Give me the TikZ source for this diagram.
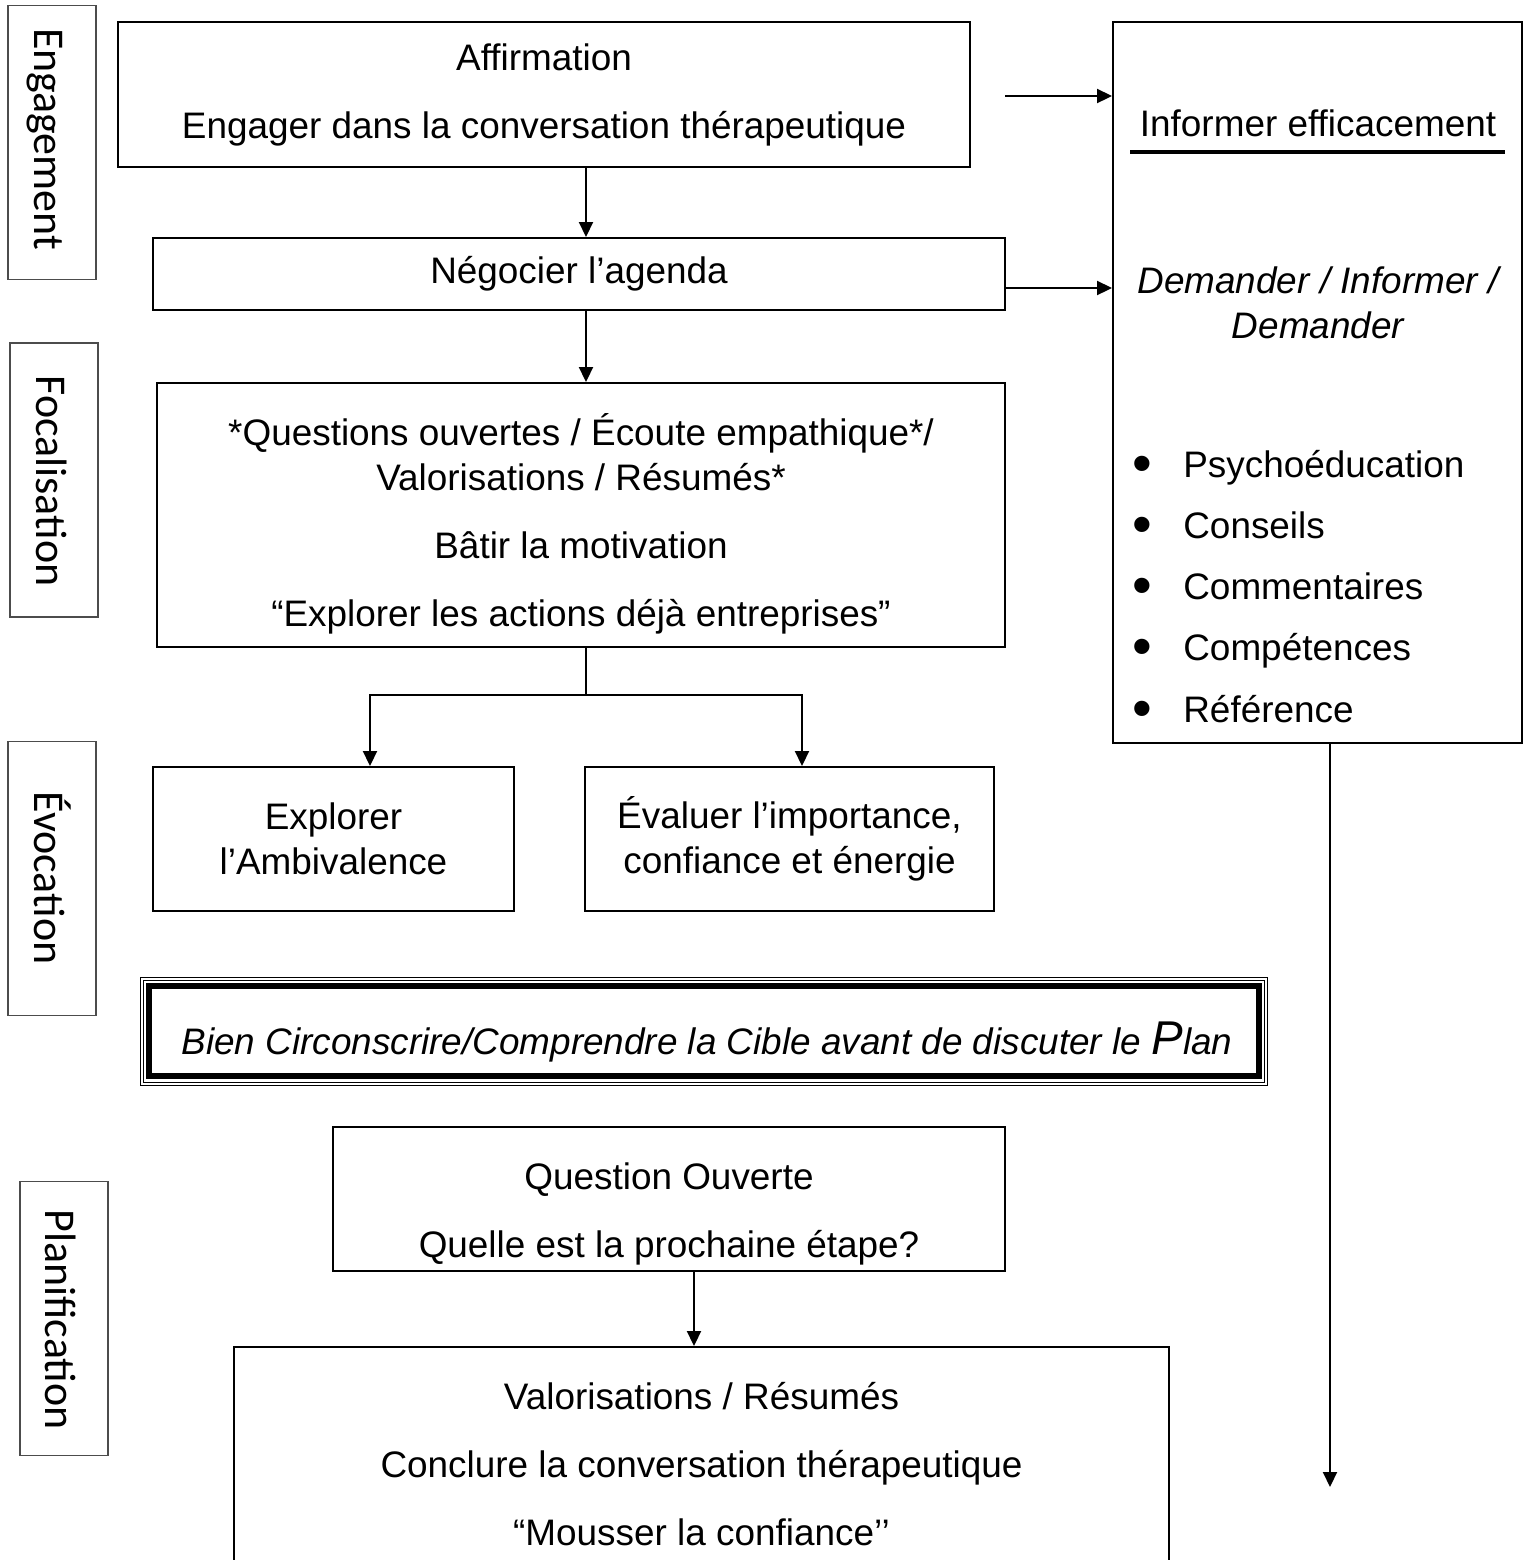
\documentclass[tikz,border=0pt]{standalone}
\usepackage{fontspec}
\setmainfont{Liberation Sans}
\newfontfamily\sidefont{Carlito}
\usetikzlibrary{arrows.meta}
\begin{document}
\begin{tikzpicture}[x=0.02cm, y=-0.02cm,
    box/.style={draw, line width=0.04cm, align=center, inner sep=0pt,
        font=\fontsize{21pt}{25.6pt}\selectfont},
    sidebox/.style={draw=black!70, line width=0.03cm, inner sep=0pt,
        minimum width=1.76cm, minimum height=5.48cm},
    sidelabel/.style={rotate=-90, anchor=base, inner sep=0pt,
        font=\sidefont\fontsize{25pt}{28pt}\selectfont},
    txt/.style={inner sep=0pt, align=center, font=\fontsize{21pt}{25.6pt}\selectfont},
    arr/.style={-{Triangle[length=0.3cm, width=0.28cm]}, line width=0.04cm}]
    \useasboundingbox (0,0) rectangle (1528,1560);
    \clip (0,0) rectangle (1528,1560);
    % side labels
    \node[sidebox] (engag) at (52,142.5) {};
    \node[sidelabel] (engagtxt) at (34,139) {Engagement};
    \node[sidebox] (focal) at (54,480) {};
    \node[sidelabel] (focaltxt) at (36,481) {Focalisation};
    \node[sidebox] (evoc) at (52,878.5) {};
    \node[sidelabel] (evoctxt) at (34,878) {Évocation};
    \node[sidebox] (planif) at (64,1318.5) {};
    \node[sidelabel] (planiftxt) at (46,1319.5) {Planification};
    % main boxes
    \node[box, minimum width=17.04cm, minimum height=2.9cm] (affirm) at (544,94.5)
        {Affirmation\\[0.46cm]Engager dans la conversation thérapeutique};
    \node[box, minimum width=17.04cm, minimum height=1.44cm] (negoc) at (579,274) {Négocier l’agenda};
    \node[box, minimum width=16.96cm, minimum height=5.28cm] (quest) at (581,515) {};
    \node[txt] (questtxt) at (581,524)
        {*Questions ouvertes / Écoute empathique*/\\Valorisations / Résumés*\\[0.46cm]Bâtir la motivation\\[0.46cm]“Explorer les actions déjà entreprises”};
    \node[box, minimum width=7.22cm, minimum height=2.88cm] (expl) at (333.5,839) {Explorer\\l’Ambivalence};
    \node[box, minimum width=8.18cm, minimum height=2.88cm] (evalu) at (789.5,839) {Évaluer l’importance,\\confiance et énergie};
    % target box
    \node[draw, line width=0.12cm, outer sep=0pt, minimum width=22.2cm, minimum height=1.8cm] (bien) at (704,1031) {};
    \draw[line width=0.02cm] ([shift={(-9,-9)}]bien.north west) rectangle ([shift={(9,9)}]bien.south east);
    \draw[line width=0.02cm] ([shift={(-6,-6)}]bien.north west) rectangle ([shift={(6,6)}]bien.south east);
    \node[txt, font=\fontsize{21pt}{25.6pt}\selectfont\itshape] (bientxt) at (707,1042)
        {Bien Circonscrire/Comprendre la Cible avant de discuter le {\fontsize{27pt}{30pt}\selectfont P}lan};
    \node[box, minimum width=13.44cm, minimum height=2.88cm] (qouv) at (669,1199) {};
    \node[txt] (qouvtxt) at (669,1214)
        {Question Ouverte\\[0.46cm]Quelle est la prochaine étape?};
    \node[box, minimum width=18.7cm, minimum height=4.68cm] (valor) at (701.5,1464)
        {Valorisations / Résumés\\[0.46cm]Conclure la conversation thérapeutique\\[0.46cm]“Mousser la confiance’’};
    % informer box
    \node[box, minimum width=8.18cm, minimum height=14.42cm] (info) at (1317.5,382.5) {};
    \node[txt] (infotitle) at (1318,123) {Informer efficacement};
    \draw[line width=0.08cm] (1130,152) -- (1505,152);
    \node[txt, font=\fontsize{21pt}{25.6pt}\selectfont\itshape] (did) at (1318,302.5) {Demander / Informer /\\Demander};
    \foreach \y/\item in {464/Psychoéducation, 525/Conseils, 586/Commentaires, 647/Compétences, 709/Référence} {
        \node[inner sep=0pt, font=\fontsize{32pt}{32pt}\selectfont] at (1142,\y+5) {•};
        \node[txt, anchor=base west] at (1183,\y+13) {\item};
    }
    % connectors
    \coordinate (colA) at (586,0);
    \coordinate (colB) at (694,0);
    \coordinate (colC) at (1330,0);
    \coordinate (colL) at (370,0);
    \coordinate (colR) at (802,0);
    \coordinate (topout) at (1005,96);
    \coordinate (negout) at (1005,288);
    \coordinate (infoend) at (1330,1487);
    \draw[arr] (affirm.south -| colA) -- (negoc.north -| colA);
    \draw[arr] (negoc.south -| colA) -- (quest.north -| colA);
    \draw[line width=0.04cm] (quest.south -| colA) -- ++(0,47) coordinate (split);
    \draw[arr] (split) -| (expl.north -| colL);
    \draw[arr] (split) -| (evalu.north -| colR);
    \draw[arr] (topout) -- (topout -| info.west);
    \draw[arr] (negout) -- (negout -| info.west);
    \draw[arr] (info.south -| colC) -- (infoend);
    \draw[arr] (qouv.south -| colB) -- (valor.north -| colB);
\end{tikzpicture}
\end{document}
